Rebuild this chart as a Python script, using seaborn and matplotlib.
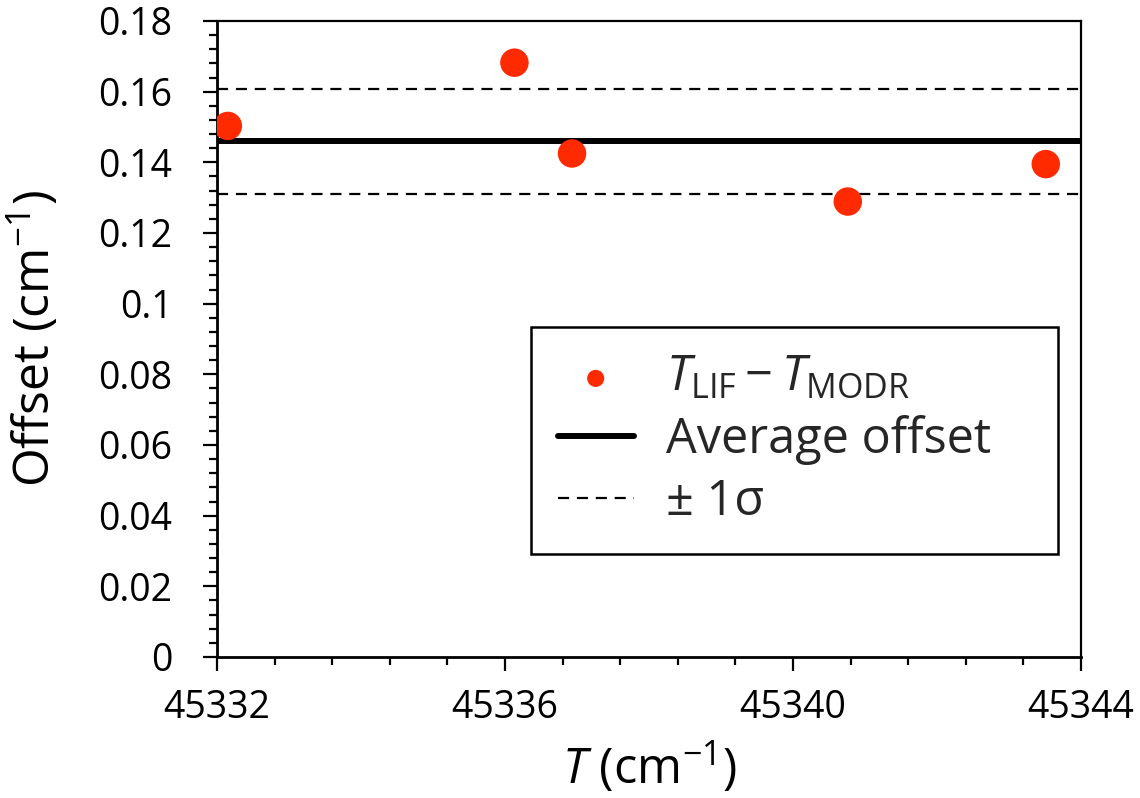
import numpy as np
import pandas as pd
import matplotlib
matplotlib.use("Agg")
import matplotlib.pyplot as plt
from matplotlib.ticker import MultipleLocator, FuncFormatter
import seaborn as sns

# ---- data ----
T_values = [45332.15, 45336.13, 45336.93, 45340.76, 45343.51]
offset_values = [0.1503, 0.1682, 0.1425, 0.1289, 0.1395]
average_offset = 0.1459
sigma = 0.0148

x_limits = [45332, 45344]
y_limits = [0, 0.18]
x_major = 4
x_minor = 0.8
y_major = 0.02
y_minor = 0.004

label_points = r"$\mathit{T}_{\mathrm{LIF}} - \mathit{T}_{\mathrm{MODR}}$"
label_avg = "Average offset"
label_sigma = "± 1σ"
xlabel = r"$\mathit{T}$ (cm$^{-1}$)"
ylabel = r"Offset (cm$^{-1}$)"

df = pd.DataFrame({"T": T_values, "Offset": offset_values})

sns.set_theme(style="ticks")
plt.rcParams["font.family"] = ["Open Sans", "DejaVu Sans"]
plt.rcParams["mathtext.fontset"] = "custom"
plt.rcParams["mathtext.rm"] = "Open Sans"
plt.rcParams["mathtext.it"] = "Open Sans:italic"
plt.rcParams["mathtext.bf"] = "Open Sans:bold"

fig = plt.figure(figsize=(11.4, 7.98), dpi=100)
ax = fig.add_axes([0.1904, 0.1767, 0.7579, 0.7970])

red = "#FF2A00"
sns.scatterplot(data=df, x="T", y="Offset", ax=ax, color=red, s=420,
                edgecolor="none", linewidth=0, label=label_points, zorder=4)
ax.axhline(average_offset, color="black", lw=4.3, label=label_avg, zorder=3)
ax.axhline(average_offset + sigma, color="black", lw=1.6, dashes=(5, 3.5),
           label=label_sigma, zorder=2)
ax.axhline(average_offset - sigma, color="black", lw=1.6, dashes=(5, 3.5),
           zorder=2)

ax.set_xlim(*x_limits)
ax.set_ylim(*y_limits)
ax.xaxis.set_major_locator(MultipleLocator(x_major))
ax.xaxis.set_minor_locator(MultipleLocator(x_minor))
ax.yaxis.set_major_locator(MultipleLocator(y_major))
ax.yaxis.set_minor_locator(MultipleLocator(y_minor))
ax.xaxis.set_major_formatter(FuncFormatter(lambda v, p: f"{v:.0f}"))
ax.yaxis.set_major_formatter(FuncFormatter(lambda v, p: f"{round(v, 3):g}"))

for s in ax.spines.values():
    s.set_visible(True)
    s.set_color("black")
    s.set_linewidth(1.6)
ax.spines["left"].set_linewidth(2.0)
ax.spines["bottom"].set_linewidth(2.0)

ax.tick_params(axis="both", which="major", direction="out", length=10,
               width=1.6, color="black", labelsize=27, labelcolor="black")
ax.tick_params(axis="both", which="minor", direction="out", length=6,
               width=1.6, color="black")
ax.tick_params(axis="y", which="major", pad=22)
ax.tick_params(axis="x", which="major", pad=13)
ax.tick_params(top=False, right=False, which="both")

ax.set_xlabel(xlabel, fontsize=35, color="black")
ax.set_ylabel(ylabel, fontsize=36, color="black")
ax.xaxis.set_label_coords(0.5, -0.13)
ax.yaxis.set_label_coords(-0.179, 0.5)

leg = ax.legend(loc="upper left", bbox_to_anchor=(0.3634, 0.160, 0.61, 0.359),
                mode="expand", fontsize=35, frameon=True, fancybox=False,
                framealpha=1, edgecolor="black", markerscale=0.6,
                handlelength=1.56, handletextpad=0.66, labelspacing=0.25,
                borderpad=0.55, borderaxespad=0)
leg.get_frame().set_linewidth(1.8)

ax.grid(False)
fig.savefig("out.png", dpi=100)
